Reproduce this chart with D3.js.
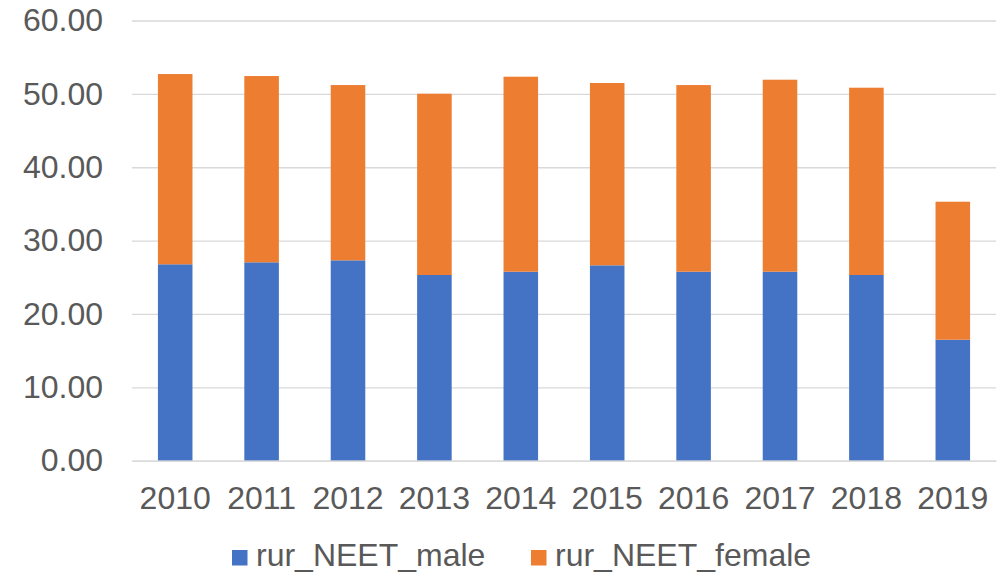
<!DOCTYPE html>
<html><head><meta charset="utf-8">
<script src="https://cdn.jsdelivr.net/npm/d3@7"></script>
<style>body{margin:0;background:#fff}svg{display:block}text{font-family:"Liberation Sans",Arial,sans-serif;fill:#595959}</style>
</head><body><svg id="c" width="999" height="573"></svg>
<script>
const years = ["2010","2011","2012","2013","2014","2015","2016","2017","2018","2019"];
const male = [26.77,27.04,27.31,25.31,25.76,26.63,25.76,25.76,25.31,16.49];
const female = [25.93,25.39,23.89,24.71,26.58,24.85,25.44,26.17,25.53,18.81];
const seriesNames = ["rur_NEET_male","rur_NEET_female"];
const colors = ["#4472C4","#ED7D31"];
const yTicks = [0,10,20,30,40,50,60];

const svg = d3.select("#c");
const pL = 132, pR = 996, pT = 20.5, pB = 460.7;
const FS = 32;
const x = d3.scaleBand().domain(years).range([pL,pR]).paddingInner(0.6).paddingOuter(0.3);
const y = d3.scaleLinear().domain([0,60]).range([pB,pT]);

const rows = years.map((yr,i)=>({year:yr, rur_NEET_male:male[i], rur_NEET_female:female[i]}));
const stacked = d3.stack().keys(seriesNames)(rows);

// gridlines
const yAxis = d3.axisLeft(y).tickValues(yTicks).tickFormat(d3.format(".2f")).tickSize(-(pR-pL)).tickPadding(29);
const ga = svg.append("g").attr("transform",`translate(${pL},0)`).call(yAxis);
ga.select(".domain").remove();
ga.selectAll(".tick line").attr("stroke","#D9D9D9").attr("stroke-width",1.3);
ga.selectAll(".tick text").attr("font-size",FS).attr("fill","#595959").style("font-family",'"Liberation Sans",Arial,sans-serif');

// bars
svg.append("g").selectAll("g").data(stacked).join("g").attr("fill",(d,i)=>colors[i])
  .selectAll("rect").data(d=>d).join("rect")
  .attr("x",d=>x(d.data.year)).attr("width",x.bandwidth())
  .attr("y",d=>y(d[1])).attr("height",d=>y(d[0])-y(d[1]));

// baseline & x axis
const xAxis = d3.axisBottom(x).tickSize(0).tickPadding(26);
const gx = svg.append("g").attr("transform",`translate(0,${pB})`).call(xAxis);
gx.select(".domain").attr("stroke","#D9D9D9").attr("stroke-width",1.3);
gx.selectAll(".tick text").attr("font-size",FS).attr("fill","#595959").style("font-family",'"Liberation Sans",Arial,sans-serif');

// legend
const legX = [232, 531];
const lg = svg.append("g");
seriesNames.forEach((n,i)=>{
  lg.append("rect").attr("x",legX[i]).attr("y",550).attr("width",15.5).attr("height",15.5).attr("fill",colors[i]);
  lg.append("text").attr("x",legX[i]+24).attr("y",566).attr("font-size",FS).text(n);
});
</script></body></html>
